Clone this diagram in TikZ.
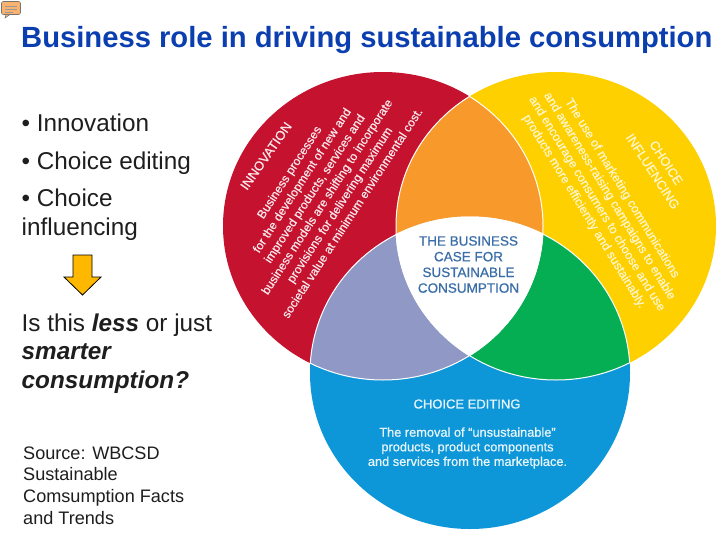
\documentclass[tikz,border=0pt]{standalone}
\usepackage{fontspec}
\setmainfont{Liberation Sans}
\newfontfamily\medfont[FakeBold=0.6]{Liberation Sans}
\definecolor{cRed}{HTML}{C4122F}
\definecolor{cYel}{HTML}{FFD000}
\definecolor{cBlu}{HTML}{0E97D8}
\definecolor{cOra}{HTML}{F79A2B}
\definecolor{cLav}{HTML}{9098C5}
\definecolor{cGre}{HTML}{05AE53}
\definecolor{cTit}{HTML}{0B3FB0}
\definecolor{cCen}{HTML}{3A6EA8}
\definecolor{cBod}{HTML}{1E1E1E}
\tikzset{
  body/.style={anchor=base west,inner sep=0pt,text=cBod,font=\fontsize{24.3}{28}\selectfont},
  src/.style={anchor=base west,inner sep=0pt,text=cBod,font=\fontsize{18.1}{22}\selectfont},
  vred/.style={white!90!cRed,inner sep=0pt,align=center,font=\medfont\fontsize{12.1}{15}\selectfont},
  vyel/.style={white!80!cYel,inner sep=0pt,align=center,font=\medfont\fontsize{12.3}{14.8}\selectfont},
  vblu/.style={white!90!cBlu,inner sep=0pt,align=center,font=\medfont\fontsize{12.8}{14.6}\selectfont},
  hd/.style={inner sep=0pt,align=center,font=\medfont\fontsize{13.5}{15.7}\selectfont},
}
\def\eRed{(383,226) ellipse [x radius=160,y radius=154]}
\def\eYel{(556,226) ellipse [x radius=160,y radius=154]}
\def\eBlu{(470,373) ellipse [x radius=160,y radius=156]}
\begin{document}
\begin{tikzpicture}[x=1pt,y=-1pt]
\useasboundingbox (0,0) rectangle (728,546);
\fill[white] (0,0) rectangle (728,546);
% circles
\fill[cRed] \eRed;
\fill[cYel] \eYel;
\fill[cBlu] \eBlu;
\begin{scope}\clip \eRed; \fill[cOra] \eYel; \fill[cLav] \eBlu; \end{scope}
\begin{scope}\clip \eYel; \fill[cGre] \eBlu; \end{scope}
\begin{scope}\clip \eRed; \clip \eYel; \fill[white] \eBlu; \end{scope}
\begin{scope}\clip \eRed; \draw[white,line width=1pt] \eYel; \draw[white,line width=1pt] \eBlu; \end{scope}
\begin{scope}\clip \eYel; \draw[white,line width=1pt] \eRed; \draw[white,line width=1pt] \eBlu; \end{scope}
\begin{scope}\clip \eBlu; \draw[white,line width=1pt] \eRed; \draw[white,line width=1pt] \eYel; \end{scope}
% title
\node[anchor=base west,inner sep=0pt,text=cTit,font=\fontsize{29.2}{32}\bfseries\selectfont] (title) at (21,47) {Business role in driving sustainable consumption};
% bubble icon
\draw[fill=orange!55!white!90!brown,draw=black!55,line width=.6pt,rounded corners=2pt] (1.5,1.5) rectangle (20.5,14.5);
\fill[orange!55!white!90!brown,draw=black!55,line width=.5pt] (6,14.5) -- (5,18) -- (10,14.5) -- cycle;
\draw[black!40,line width=.5pt] (5,6) -- (17,6) (5,9) -- (17,9) (5,12) -- (13,12);
% left text
\node[body] (t1) at (21.5,131) {• Innovation};
\node[body] (t2) at (21.5,169) {• Choice editing};
\node[body] (t3) at (21.5,206) {• Choice};
\node[body] (t4) at (21.5,235) {influencing};
\node[body] (t5) at (21.5,331) {Is this \textbf{\textit{less}} or just};
\node[body] (t6) at (21.5,359) {\textbf{\textit{smarter}}};
\node[body] (t7) at (21.5,388) {\textbf{\textit{consumption?}}};
\node[src] (s1) at (23,459) {Source: WBCSD};
\node[src] (s2) at (23,480) {Sustainable};
\node[src] (s3) at (23,502) {Comsumption Facts};
\node[src] (s4) at (23,524) {and Trends};
% arrow
\draw[fill=cYel!70!orange,draw=black,line width=.8pt,line join=miter] (73,255) -- (92,255) -- (92,277) -- (101,277) -- (82.5,295) -- (64,277) -- (73,277) -- cycle;
% circle labels
\node[vred,font=\medfont\fontsize{13}{16}\selectfont,rotate=55] (rh) at (266,156) {INNOVATION};
\node[vred,rotate=57] (rb) at (320.5,192.5) {Business processes\\for the development of new and\\improved products, services and\\business models are shifting to incorporate\\provisions for delivering maximum\\societal value at minimum environmental cost.};
\node[vyel,font=\medfont\fontsize{12.8}{16}\selectfont,rotate=-57] (yh) at (659.5,167) {CHOICE\\INFLUENCING};
\node[vyel,rotate=-58.5] (yb) at (603,200) {The use of marketing communications\\and awareness-raising campaigns to enable\\and encourage consumers to choose and use\\products more efficiently and sustainably.};
\node[hd,text=cCen] (c) at (468.5,264.5) {THE BUSINESS\\CASE FOR\\SUSTAINABLE\\CONSUMPTION};
\node[vblu,font=\medfont\fontsize{13}{16}\selectfont] (bh) at (467,404) {CHOICE EDITING};
\node[vblu] (bb) at (467.5,448) {The removal of “unsustainable”\\products, product components\\and services from the marketplace.};
\end{tikzpicture}
\end{document}
